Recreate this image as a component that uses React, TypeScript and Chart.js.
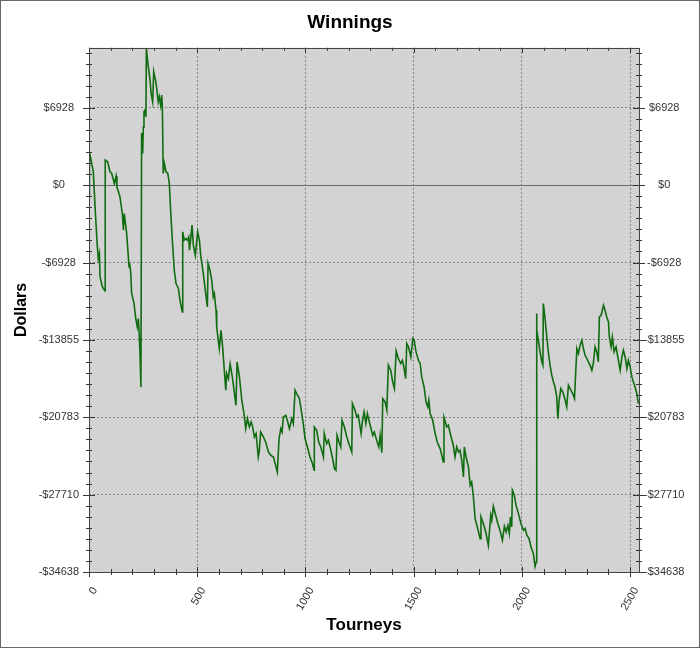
import { useEffect, useRef } from 'react';
import { Chart, registerables } from 'chart.js';
import type { Plugin } from 'chart.js';

Chart.register(...registerables);

// tourney number of each sampled point on the curve
const tourneys = [
  0, 2, 20, 28, 38, 43, 48, 51, 62, 74, 75, 86, 97, 105, 117, 125, 129, 143, 154, 159,
  163, 174, 185, 188, 193, 197, 208, 216, 223, 228, 232, 236, 240, 243, 248, 251, 254, 259, 263, 265,
  274, 282, 287, 294, 299, 310, 320, 325, 331, 336, 339, 343, 348, 356, 364, 371, 378, 385, 394, 402,
  413, 420, 431, 433, 440, 448, 454, 461, 464, 470, 476, 482, 491, 498, 502, 510, 516, 528, 539, 547,
  550, 559, 567, 574, 579, 587, 590, 602, 610, 618, 624, 632, 636, 644, 652, 662, 672, 679, 684, 695,
  706, 716, 724, 732, 741, 749, 756, 764, 772, 782, 787, 793, 806, 816, 829, 840, 852, 860, 870, 878,
  886, 892, 898, 909, 916, 926, 937, 944, 952, 963, 972, 983, 990, 998, 1009, 1021, 1032, 1040, 1041, 1052,
  1061, 1071, 1083, 1087, 1098, 1106, 1114, 1124, 1134, 1141, 1146, 1155, 1163, 1169, 1180, 1191, 1203, 1214, 1217, 1229,
  1237, 1244, 1257, 1263, 1271, 1279, 1286, 1299, 1311, 1318, 1329, 1339, 1345, 1353, 1357, 1368, 1376, 1383, 1394, 1403,
  1411, 1419, 1429, 1440, 1448, 1456, 1463, 1468, 1476, 1487, 1496, 1502, 1511, 1522, 1530, 1537, 1548, 1557, 1565, 1570,
  1576, 1588, 1599, 1609, 1622, 1630, 1637, 1640, 1653, 1660, 1673, 1683, 1691, 1699, 1707, 1714, 1722, 1730, 1734, 1742,
  1753, 1761, 1768, 1776, 1784, 1794, 1807, 1811, 1822, 1833, 1845, 1856, 1861, 1868, 1879, 1889, 1899, 1910, 1919, 1927,
  1935, 1942, 1947, 1953, 1956, 1965, 1973, 1984, 1996, 2007, 2015, 2023, 2033, 2042, 2053, 2058, 2061, 2066, 2068, 2069,
  2076, 2084, 2092, 2097, 2099, 2107, 2115, 2122, 2130, 2138, 2146, 2153, 2161, 2166, 2172, 2180, 2189, 2196, 2207, 2215,
  2226, 2235, 2243, 2249, 2254, 2261, 2269, 2277, 2284, 2292, 2300, 2307, 2315, 2323, 2330, 2338, 2346, 2353, 2358, 2366,
  2377, 2384, 2392, 2400, 2404, 2412, 2418, 2426, 2435, 2443, 2454, 2462, 2469, 2477, 2485, 2492, 2500, 2508, 2515, 2523,
  2531, 2538,
];

// running total in dollars at those tourneys
const winnings = [
  -1000, 2980, 1190, -1940, -5375, -6570, -6120, -8210, -9110, -9470, 2240, 2090, 1190, 1050, 150, 810, -150, -1050, -2540, -4030,
  -2540, -4330, -7320, -7010, -7910, -9700, -10600, -11940, -12690, -11940, -13280, -15380, -18070, 4660, 2840, 5220, 6570, 6720, 6120, 12250,
  10600, 9410, 8210, 7460, 10150, 9110, 7460, 7910, 7170, 8060, 6870, 1050, 1940, 1190, 1050, 150, -2540, -4930, -7610, -8810,
  -9250, -10300, -11350, -4180, -4930, -4780, -4930, -4630, -5820, -4780, -3580, -5375, -6270, -4930, -4180, -4930, -6270, -7910, -9700, -10900,
  -7010, -7610, -8510, -10000, -9700, -11200, -12690, -14630, -12990, -14630, -16280, -18360, -16870, -17320, -16030, -17170, -18660, -19710, -15830, -17170,
  -19260, -20450, -21800, -20900, -21650, -21200, -21650, -22550, -22240, -24340, -23740, -22100, -22550, -23000, -23890, -24190, -24340, -24930, -25680, -22690,
  -21800, -22100, -20760, -20600, -21050, -21800, -20900, -21350, -18360, -18810, -19110, -20450, -21350, -22690, -23440, -24340, -24930, -25530, -21650, -21950,
  -23000, -23440, -24340, -22240, -23140, -22840, -23440, -24340, -25380, -25530, -22400, -23000, -23440, -21050, -21650, -22550, -23290, -23890, -19560, -20160,
  -20760, -20600, -22240, -21200, -20310, -21350, -20450, -21500, -22400, -22100, -22840, -23440, -22400, -23950, -19110, -19410, -20160, -16120, -16570, -17620,
  -18210, -14840, -15520, -15970, -15680, -16420, -17320, -14180, -14480, -15380, -13730, -13880, -14930, -15680, -15970, -17170, -18070, -19410, -19860, -19260,
  -20450, -21050, -22240, -23000, -23590, -24190, -24780, -20810, -21650, -21500, -22550, -23290, -24340, -23440, -23890, -23740, -24630, -26130, -23440, -24340,
  -25230, -26870, -26580, -27920, -29860, -30610, -31650, -29710, -30310, -31060, -32250, -29560, -30010, -28760, -29560, -30310, -30910, -31800, -30550, -31060,
  -30460, -31200, -29710, -30610, -27320, -27770, -28670, -29410, -30310, -30910, -30750, -31350, -31650, -32400, -32990, -33740, -34130, -33740, -11490, -12990,
  -13880, -14930, -15830, -16120, -10600, -11940, -13590, -14930, -16120, -17020, -17620, -18070, -18960, -20900, -19260, -18210, -18520, -18960, -19860, -17920,
  -18360, -18660, -19110, -16570, -14630, -15080, -14330, -13880, -14630, -15230, -15520, -15830, -16120, -16570, -15970, -14480, -14930, -15830, -11800, -11650,
  -10750, -11200, -11800, -12250, -13590, -14480, -13590, -14930, -14480, -15380, -16570, -15380, -14780, -15380, -16420, -15680, -16280, -17170, -17620, -18070,
  -18660, -19560,
];

const xTickValues = [0, 500, 1000, 1500, 2000, 2500];
const yTickValues = [-34638, -27710.4, -20782.8, -13855.2, -6927.6, 0, 6927.6];

const X_MAX = 2541;
const Y_MIN = -34638;
const Y_MAX = 12300;
const X_MINOR = 100;
const Y_MINOR = 34638 / 5 / 7;

const FONT = "'Liberation Sans', Arial, sans-serif";

const dollars = (v: number) => (v < 0 ? '-$' : '$') + Math.round(Math.abs(v));

// gray plot background, zero line, plot frame, minor tick marks and outer border
const decorations: Plugin<'line'> = {
  id: 'decorations',
  beforeDraw(chart) {
    const { ctx, width, height, chartArea } = chart;
    ctx.save();
    ctx.fillStyle = '#ffffff';
    ctx.fillRect(0, 0, width, height);
    ctx.fillStyle = '#d3d3d3';
    ctx.fillRect(chartArea.left, chartArea.top, chartArea.right - chartArea.left, chartArea.bottom - chartArea.top);
    ctx.restore();
  },
  beforeDatasetsDraw(chart) {
    const { ctx, chartArea, scales } = chart;
    const y0 = Math.round(scales.y.getPixelForValue(0)) + 0.5;
    ctx.save();
    ctx.strokeStyle = '#6a6a6a';
    ctx.lineWidth = 1;
    ctx.beginPath();
    ctx.moveTo(chartArea.left, y0);
    ctx.lineTo(chartArea.right, y0);
    ctx.stroke();
    ctx.restore();
  },
  afterDraw(chart) {
    const { ctx, width, height, chartArea, scales } = chart;
    const { left, right, top, bottom } = chartArea;
    const seg = (x1: number, y1: number, x2: number, y2: number) => {
      ctx.moveTo(x1, y1);
      ctx.lineTo(x2, y2);
    };
    ctx.save();
    ctx.strokeStyle = '#333333';
    ctx.lineWidth = 1;
    ctx.beginPath();
    for (let i = 0; i * X_MINOR <= X_MAX; i++) {
      const px = Math.round(scales.x.getPixelForValue(i * X_MINOR)) + 0.5;
      const len = i % 5 === 0 ? 5 : 3;
      seg(px, bottom - len, px, bottom + len);
      seg(px, top, px, top + len);
    }
    for (let i = 0; Y_MIN + i * Y_MINOR <= Y_MAX; i++) {
      const py = Math.round(scales.y.getPixelForValue(Y_MIN + i * Y_MINOR)) + 0.5;
      const len = i % 7 === 0 ? 6 : 3;
      seg(left - len, py, left + len, py);
      seg(right - len, py, right + len, py);
    }
    ctx.stroke();
    ctx.strokeStyle = '#444444';
    ctx.strokeRect(Math.round(left) + 0.5, Math.round(top) + 0.5, Math.round(right - left), Math.round(bottom - top));
    ctx.strokeStyle = '#666666';
    ctx.strokeRect(0.5, 0.5, width - 1, height - 1);
    ctx.restore();
  },
};

function WinningsChart() {
  const canvasRef = useRef<HTMLCanvasElement>(null);

  useEffect(() => {
    if (!canvasRef.current) return;
    const gridColor = (c: any) => (c.tick && c.tick.value === 0 ? 'rgba(0,0,0,0)' : '#808080');
    const yTicks = (scale: any) => {
      scale.ticks = yTickValues.map((value) => ({ value }));
    };

    const chart = new Chart(canvasRef.current, {
      type: 'line',
      data: {
        datasets: [
          {
            label: 'Winnings',
            data: tourneys.map((t, i) => ({ x: t, y: winnings[i] })),
            borderColor: '#106c10',
            borderWidth: 1.6,
            pointRadius: 0,
            tension: 0,
            fill: false,
          },
        ],
      },
      options: {
        animation: false,
        responsive: true,
        maintainAspectRatio: false,
        layout: { padding: 0 },
        plugins: {
          legend: { display: false },
          tooltip: { enabled: false },
          title: {
            display: true,
            text: 'Winnings',
            color: '#000',
            font: { family: FONT, size: 19, weight: 'bold' },
            padding: { top: 11, bottom: 14 },
          },
        },
        scales: {
          x: {
            type: 'linear',
            min: 0,
            max: X_MAX,
            afterBuildTicks: (scale: any) => {
              scale.ticks = xTickValues.map((value) => ({ value }));
            },
            afterFit: (scale: any) => {
              scale.height = 76;
            },
            ticks: {
              minRotation: 60,
              maxRotation: 60,
              color: '#333',
              font: { family: FONT, size: 11 },
              padding: 13,
              labelOffset: 6,
              callback: (v: any) => String(v),
            },
            grid: { color: '#808080', drawTicks: false },
            border: { display: false, dash: [2, 2] },
            title: {
              display: true,
              text: 'Tourneys',
              color: '#000',
              font: { family: FONT, size: 17, weight: 'bold' },
              padding: { top: 0, bottom: 12 },
            },
          },
          y: {
            type: 'linear',
            position: 'left',
            min: Y_MIN,
            max: Y_MAX,
            afterBuildTicks: yTicks,
            afterFit: (scale: any) => {
              scale.width = 89;
            },
            ticks: {
              color: '#333',
              font: { family: FONT, size: 11 },
              crossAlign: 'center',
              padding: 10,
              callback: (v: any) => dollars(Number(v)),
            },
            grid: { color: gridColor, drawTicks: false },
            border: { display: false, dash: [2, 2] },
            title: {
              display: true,
              text: 'Dollars',
              color: '#000',
              font: { family: FONT, size: 16, weight: 'bold' },
              padding: { top: 12, bottom: 0 },
            },
          },
          y2: {
            type: 'linear',
            position: 'right',
            min: Y_MIN,
            max: Y_MAX,
            afterBuildTicks: yTicks,
            afterFit: (scale: any) => {
              scale.width = 61;
            },
            ticks: {
              color: '#333',
              font: { family: FONT, size: 11 },
              crossAlign: 'center',
              padding: 5,
              callback: (v: any) => dollars(Number(v)),
            },
            grid: { drawOnChartArea: false, drawTicks: false },
            border: { display: false },
          },
        },
      },
      plugins: [decorations],
    });

    return () => {
      chart.destroy();
    };
  }, []);

  return (
    <div style={{ position: 'relative', width: 700, height: 648 }}>
      <canvas ref={canvasRef} />
    </div>
  );
}

export default function App() {
  useEffect(() => {
    document.body.style.margin = '0';
  }, []);
  return <WinningsChart />;
}
